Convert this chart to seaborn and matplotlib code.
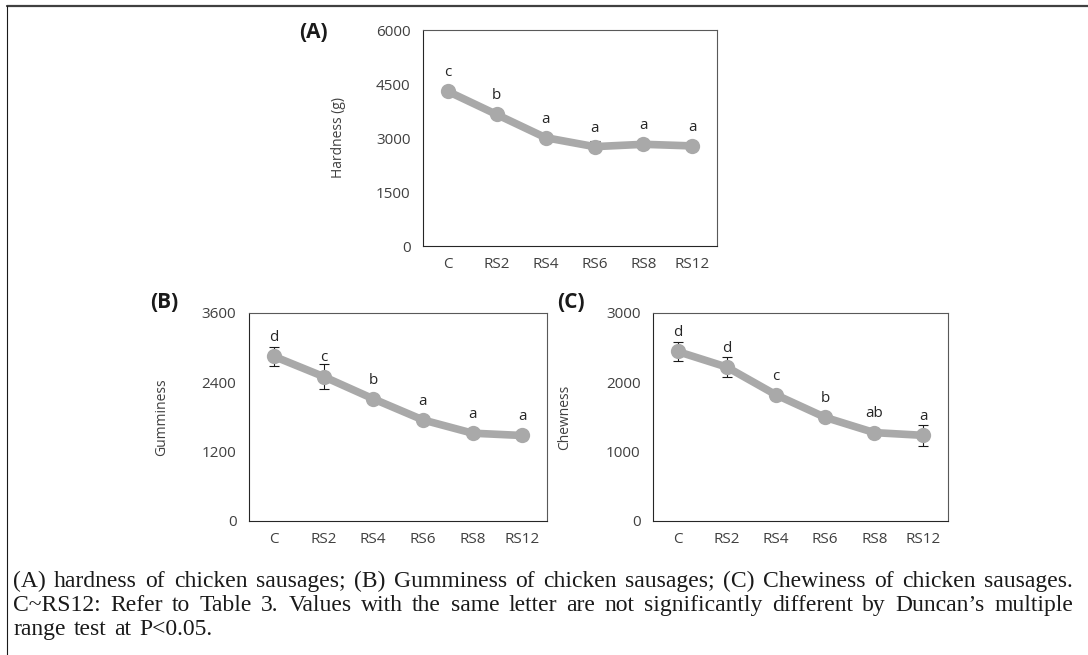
import numpy as np
import pandas as pd
import matplotlib
matplotlib.use("Agg")
import matplotlib.pyplot as plt
from matplotlib.lines import Line2D
import seaborn as sns


categories = ["C", "RS2", "RS4", "RS6", "RS8", "RS12"]

hardness = [4300, 3655, 3010, 2760, 2825, 2780]
hardness_err = [70, 80, 90, 150, 140, 90]
hardness_letters = ["c", "b", "a", "a", "a", "a"]

gumminess = [2850, 2500, 2115, 1750, 1520, 1480]
gumminess_err = [160, 210, 60, 50, 50, 70]
gumminess_letters = ["d", "c", "b", "a", "a", "a"]

chewiness = [2445, 2220, 1820, 1495, 1275, 1235]
chewiness_err = [140, 150, 60, 50, 50, 150]
chewiness_letters = ["d", "d", "c", "b", "ab", "a"]

caption_lines = [
    "(A) hardness of chicken sausages; (B) Gumminess of chicken sausages; (C) Chewiness of chicken sausages.",
    "C~RS12: Refer to Table 3. Values with the same letter are not significantly different by Duncan\u2019s multiple",
    "range test at P<0.05.",
]

GREY = "#a9a9a9"
W, H = 1088, 655


def draw_panel(ax, values, errs, letters, ylabel, ymax, step, label_x):
    df = pd.DataFrame({"sample": categories, "value": values})
    ax.errorbar(categories, values, yerr=errs, fmt="none", ecolor="#1a1a1a",
                elinewidth=0.8, capsize=3.5, capthick=0.8, zorder=1)
    sns.lineplot(data=df, x="sample", y="value", sort=False, color=GREY, lw=5.5,
                 marker="o", markersize=11, markeredgewidth=0, ax=ax, zorder=3)
    for c, v, t in zip(categories, values, letters):
        ax.annotate(t, (c, v), xytext=(0, 8), textcoords="offset points",
                    ha="center", va="bottom", fontsize=11, color="#262626")
    ax.set_xlim(-0.5, 5.5)
    ax.set_ylim(0, ymax)
    ax.set_yticks(np.arange(0, ymax + 1, step))
    ax.set_xlabel("")
    ax.set_ylabel(ylabel, fontsize=10, color="#404040")
    ax.yaxis.set_label_coords(label_x, 0.5)
    ax.tick_params(axis="x", length=0, pad=8, labelsize=11, colors="#404040")
    ax.tick_params(axis="y", length=4, width=0.8, pad=5, labelsize=11, colors="#404040")
    for s in ax.spines.values():
        s.set_color("#595959")
        s.set_linewidth(0.8)
    ax.spines["left"].set_color("#262626")
    ax.spines["bottom"].set_color("#262626")


def caption_line(fig, text, y_px, x0_px, x1_px, justify=True):
    renderer = fig.canvas.get_renderer()
    words = text.split(" ")
    arts = [fig.text(0, 1 - y_px / H, w, fontsize=17, family="Liberation Serif",
                     va="baseline", ha="left", color="#1a1a1a") for w in words]
    widths = [a.get_window_extent(renderer).width for a in arts]
    if justify:
        gap = (x1_px - x0_px - sum(widths)) / (len(words) - 1)
    else:
        gap = 8
    x = x0_px
    for a, w in zip(arts, widths):
        a.set_x(x / W)
        x += w + gap


def main():
    sns.set_style("white")
    plt.rcParams["font.family"] = ["Open Sans", "DejaVu Sans"]

    fig = plt.figure(figsize=(W / 100, H / 100), dpi=100)

    ax_a = fig.add_axes([423 / W, 1 - 246 / H, 294 / W, 216 / H])
    ax_b = fig.add_axes([249 / W, 1 - 521 / H, 298 / W, 208 / H])
    ax_c = fig.add_axes([653 / W, 1 - 521 / H, 295 / W, 208 / H])

    draw_panel(ax_a, hardness, hardness_err, hardness_letters, "Hardness (g)", 6000, 1500, -0.262)
    draw_panel(ax_b, gumminess, gumminess_err, gumminess_letters, "Gumminess", 3600, 1200, -0.268)
    draw_panel(ax_c, chewiness, chewiness_err, chewiness_letters, "Chewness", 3000, 1000, -0.275)

    for tag, x, y in [("(A)", 313, 33), ("(B)", 164, 302), ("(C)", 571, 302)]:
        fig.text(x / W, 1 - y / H, tag, fontsize=15, fontweight="bold",
                 ha="center", va="center", color="#1a1a1a")

    # frame round the figure: top and left edges only
    fig.add_artist(Line2D([7 / W, 1], [1 - 6 / H, 1 - 6 / H], transform=fig.transFigure,
                          color="#404040", lw=1.6))
    fig.add_artist(Line2D([7 / W, 7 / W], [0, 1 - 6 / H], transform=fig.transFigure,
                          color="#1a1a1a", lw=0.8))

    caption_line(fig, caption_lines[0], 587, 13, 1073)
    caption_line(fig, caption_lines[1], 611, 13, 1073)
    caption_line(fig, caption_lines[2], 635, 13, 1073, justify=False)

    fig.savefig("out.png", dpi=100)


if __name__ == "__main__":
    main()
